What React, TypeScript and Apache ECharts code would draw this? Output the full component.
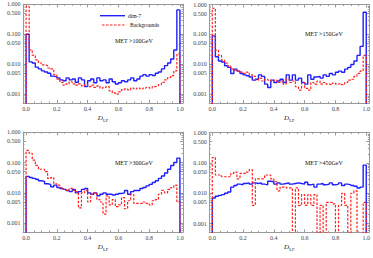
import React, { useEffect, useRef } from "react";
import * as echarts from "echarts";

const binStarts = [
  0.0, 0.02, 0.04, 0.06, 0.08, 0.1, 0.12, 0.14, 0.16, 0.18,
  0.2, 0.22, 0.24, 0.26, 0.28, 0.3, 0.32, 0.34, 0.36, 0.38,
  0.4, 0.42, 0.44, 0.46, 0.48, 0.5, 0.52, 0.54, 0.56, 0.58,
  0.6, 0.62, 0.64, 0.66, 0.68, 0.7, 0.72, 0.74, 0.76, 0.78,
  0.8, 0.82, 0.84, 0.86, 0.88, 0.9, 0.92, 0.94, 0.96, 0.98,
];
const binEnd = 1.0;

const metLabels = ["MET >100GeV", "MET >150GeV", "MET >300GeV", "MET >450GeV"];
const seriesNames = ["dim-7", "Backgrounds"];

const xTickValues = [0, 0.2, 0.4, 0.6, 0.8, 1.0];
const xMinorTickValues = [0.05, 0.1, 0.15, 0.25, 0.3, 0.35, 0.45, 0.5, 0.55, 0.65, 0.7, 0.75, 0.85, 0.9, 0.95];
const yTickValues = [1, 0.5, 0.1, 0.05, 0.01, 0.005, 0.001];
const yMinorTickValues = [
  0.9, 0.8, 0.7, 0.6, 0.4, 0.3, 0.2,
  0.09, 0.08, 0.07, 0.06, 0.04, 0.03, 0.02,
  0.009, 0.008, 0.007, 0.006, 0.004, 0.003, 0.002,
  0.0009, 0.0008, 0.0007, 0.0006,
];

const dim7_100 = [
  0.1, 0.012, 0.011, 0.008, 0.007, 0.006, 0.0055, 0.005, 0.004, 0.0038,
  0.0035, 0.003, 0.0028, 0.0035, 0.003, 0.0032, 0.0025, 0.0035, 0.003, 0.0018,
  0.0028, 0.0032, 0.0024, 0.0035, 0.0028, 0.003, 0.0024, 0.0032, 0.0026, 0.0022,
  0.0024, 0.0028, 0.0026, 0.003, 0.0035, 0.0028, 0.0032, 0.004, 0.0045, 0.004,
  0.0045, 0.0042, 0.005, 0.0055, 0.007, 0.009, 0.011, 0.015, 0.03, 0.65,
];
const bkg_100 = [
  0.85, 0.03, 0.02, 0.014, 0.011, 0.0095, 0.009, 0.0075, 0.007, 0.0045,
  0.0032, 0.0025, 0.002, 0.0022, 0.0026, 0.0022, 0.002, 0.0022, 0.0019, 0.0021,
  0.0018, 0.002, 0.0017, 0.0019, 0.0016, 0.0017, 0.0018, 0.0013, 0.0011, 0.001,
  0.0012, 0.0014, 0.0015, 0.0014, 0.0016, 0.0015, 0.0016, 0.0015, 0.0016, 0.0017,
  0.0016, 0.0018, 0.0019, 0.0021, 0.0025, 0.003, 0.0036, 0.0042, 0.006, 0.022,
];
const dim7_150 = [
  0.09, 0.018, 0.013, 0.012, 0.009, 0.008, 0.005, 0.007, 0.006, 0.005,
  0.0045, 0.0042, 0.0038, 0.003, 0.0032, 0.0045, 0.004, 0.0022, 0.0017, 0.003,
  0.0025, 0.0028, 0.0032, 0.0025, 0.0045, 0.003, 0.0045, 0.003, 0.0035, 0.0025,
  0.0022, 0.0045, 0.0032, 0.0038, 0.004, 0.0035, 0.0045, 0.004, 0.005, 0.0045,
  0.0055, 0.006, 0.0055, 0.007, 0.008, 0.01, 0.013, 0.02, 0.04, 0.55,
];
const bkg_150 = [
  0.75, 0.03, 0.02, 0.014, 0.011, 0.009, 0.007, 0.0065, 0.006, 0.0055,
  0.005, 0.0055, 0.0045, 0.004, 0.003, 0.0035, 0.0028, 0.0032, 0.003, 0.0028,
  0.003, 0.0025, 0.0028, 0.0022, 0.0032, 0.0025, 0.0028, 0.0018, 0.0014, 0.0025,
  0.0016, 0.0014, 0.0025, 0.0022, 0.0028, 0.0022, 0.0025, 0.0022, 0.0021, 0.0024,
  0.0022, 0.0023, 0.0021, 0.0025, 0.003, 0.0032, 0.004, 0.005, 0.006, 0.02,
];
const dim7_300 = [
  0.035, 0.032, 0.03, 0.028, 0.025, 0.024, 0.02, 0.019, 0.016, 0.018,
  0.015, 0.014, 0.013, 0.012, 0.011, 0.013, 0.01, 0.011, 0.013, 0.014,
  0.01, 0.009, 0.01, 0.008, 0.009, 0.01, 0.009, 0.009, 0.0085, 0.009,
  0.0095, 0.01, 0.012, 0.009, 0.011, 0.012, 0.012, 0.014, 0.015, 0.017,
  0.019, 0.022, 0.025, 0.03, 0.036, 0.045, 0.06, 0.08, 0.1, 0.14,
];
const bkg_300 = [
  0.25, 0.2, 0.12, 0.08, 0.06, 0.06, 0.05, 0.03, 0.032, 0.02,
  0.018, 0.015, 0.013, 0.012, 0.014, 0.012, 0.011, 0.0032, 0.01, 0.012,
  0.005, 0.009, 0.01, 0.006, 0.005, 0.002, 0.008, 0.004, 0.006, 0.0035,
  0.004, 0.007, 0.003, 0.0055, 0.009, 0.0045, 0.0045, 0.0045, 0.005, 0.0045,
  0.004, 0.0055, 0.006, 0.009, 0.012, 0.01, 0.013, 0.015, 0.018, 0.005,
];
const dim7_450 = [
  0.007, 0.008, 0.0085, 0.009, 0.01, 0.011, 0.016, 0.018, 0.02, 0.019,
  0.021, 0.022, 0.02, 0.022, 0.021, 0.022, 0.02, 0.019, 0.025, 0.024,
  0.02, 0.022, 0.02, 0.021, 0.022, 0.02, 0.021, 0.022, 0.021, 0.02,
  0.023, 0.019, 0.02, 0.016, 0.02, 0.021, 0.019, 0.02, 0.022, 0.019,
  0.02, 0.022, 0.018, 0.02, 0.019, 0.018, 0.017, 0.015, 0.016, 0.085,
];
const bkg_450 = [
  0.15, 0.04, 0.04, 0.035, 0.035, 0.035, 0.045, 0.05, 0.03, 0.045,
  0.045, 0.05, 0.06, 0.004, 0.03, 0.03, 0.03, 0.04, 0.04, 0.03,
  0.024, 0.012, 0.016, 0.016, 0.015, 0.015, 0, 0.015, 0.004, 0.009,
  0.004, 0.009, 0.004, 0.009, 0, 0.004, 0, 0.005, 0.005, 0.0045,
  0, 0.004, 0.01, 0.004, 0, 0.01, 0.012, 0, 0, 0.005,
];

const panels = [
  { dim7: dim7_100, bkg: bkg_100, label: metLabels[0] },
  { dim7: dim7_150, bkg: bkg_150, label: metLabels[1] },
  { dim7: dim7_300, bkg: bkg_300, label: metLabels[2] },
  { dim7: dim7_450, bkg: bkg_450, label: metLabels[3] },
];

// layout (pixels)
const grids = [
  { left: 23, top: 4.3, width: 160, height: 98.6, labelX: 115, labelY: 41 },
  { left: 209.2, top: 4.5, width: 161.6, height: 98.6, labelX: 305, labelY: 33.5 },
  { left: 23, top: 132.2, width: 160, height: 99.8, labelX: 115, labelY: 163 },
  { left: 209.2, top: 132.6, width: 161.6, height: 99.8, labelX: 305, labelY: 163 },
];

const BLUE = "#1f1fff";
const RED = "#ff2020";
const FRAME = "#9a9a9a";
const LABEL = "#444";
const FONT = "Liberation Serif";
const Y_MIN = -3.29;
const Y_MAX = 0;
const FLOOR = -6;

const lg = (v: number) => (v > 0 ? Math.log10(v) : FLOOR);

function stepData(vals: number[]) {
  const pts: number[][] = [[binStarts[0], FLOOR]];
  vals.forEach((v, i) => pts.push([binStarts[i], lg(v)]));
  pts.push([binEnd, FLOOR]);
  return pts;
}

function buildOption() {
  const xAxis: any[] = [];
  const yAxis: any[] = [];
  const series: any[] = [];
  const graphic: any[] = [];

  grids.forEach((g, gi) => {
    const frameLine = { show: true, onZero: false, lineStyle: { color: FRAME, width: 1 } };
    const noLine = { show: false, onZero: false };
    const xBase = { gridIndex: gi, type: "value", min: -0.02, max: 1.02, splitLine: { show: false } };
    xAxis.push({
      ...xBase,
      position: "bottom",
      axisLine: frameLine,
      axisTick: { show: true, inside: true, length: 3, customValues: xTickValues, lineStyle: { color: FRAME } },
      axisLabel: {
        customValues: xTickValues,
        formatter: (v: number) => v.toFixed(1),
        fontSize: 6,
        fontFamily: FONT,
        color: LABEL,
        margin: 3,
      },
      name: "{i|D}{s|LF}",
      nameLocation: "middle",
      nameGap: 10,
      nameTextStyle: {
        rich: {
          i: { fontStyle: "italic", fontSize: 7, fontFamily: FONT, color: "#222" },
          s: { fontSize: 4.5, fontFamily: FONT, color: "#222", padding: [5, 0, 0, 0] },
        },
      },
    });
    xAxis.push({
      ...xBase,
      position: "top",
      axisLine: frameLine,
      axisTick: { show: true, inside: true, length: 3, customValues: xTickValues, lineStyle: { color: FRAME } },
      axisLabel: { show: false },
    });
    xAxis.push({
      ...xBase,
      position: "bottom",
      axisLine: noLine,
      axisTick: { show: true, inside: true, length: 1.5, customValues: xMinorTickValues, lineStyle: { color: FRAME } },
      axisLabel: { show: false },
    });
    xAxis.push({
      ...xBase,
      position: "top",
      axisLine: noLine,
      axisTick: { show: true, inside: true, length: 1.5, customValues: xMinorTickValues, lineStyle: { color: FRAME } },
      axisLabel: { show: false },
    });

    const yMajor = yTickValues.map((v) => Math.log10(v));
    const yMinor = yMinorTickValues.map((v) => Math.log10(v));
    const yBase = { gridIndex: gi, type: "value", min: Y_MIN, max: Y_MAX, splitLine: { show: false } };
    yAxis.push({
      ...yBase,
      position: "left",
      axisLine: frameLine,
      axisTick: { show: true, inside: true, length: 3, customValues: yMajor, lineStyle: { color: FRAME } },
      axisLabel: {
        customValues: yMajor,
        formatter: (v: number) => Math.pow(10, v).toFixed(3),
        fontSize: 6,
        fontFamily: FONT,
        color: LABEL,
        margin: 2.5,
      },
    });
    yAxis.push({
      ...yBase,
      position: "right",
      axisLine: frameLine,
      axisTick: { show: true, inside: true, length: 3, customValues: yMajor, lineStyle: { color: FRAME } },
      axisLabel: { show: false },
    });
    yAxis.push({
      ...yBase,
      position: "left",
      axisLine: noLine,
      axisTick: { show: true, inside: true, length: 1.5, customValues: yMinor, lineStyle: { color: FRAME } },
      axisLabel: { show: false },
    });
    yAxis.push({
      ...yBase,
      position: "right",
      axisLine: noLine,
      axisTick: { show: true, inside: true, length: 1.5, customValues: yMinor, lineStyle: { color: FRAME } },
      axisLabel: { show: false },
    });

    const p = panels[gi];
    series.push({
      name: seriesNames[0],
      type: "line",
      step: "end",
      xAxisIndex: gi * 4,
      yAxisIndex: gi * 4,
      data: stepData(p.dim7),
      showSymbol: false,
      symbol: "none",
      clip: true,
      lineStyle: { color: BLUE, width: 1.4 },
      z: 3,
    });
    series.push({
      name: seriesNames[1],
      type: "line",
      step: "end",
      xAxisIndex: gi * 4,
      yAxisIndex: gi * 4,
      data: stepData(p.bkg),
      showSymbol: false,
      symbol: "none",
      clip: true,
      lineStyle: { color: RED, width: 1.2, type: [2.5, 1.5] },
      z: 4,
    });

    graphic.push({
      type: "text",
      x: g.labelX,
      y: g.labelY,
      style: {
        text: p.label,
        fontSize: 6,
        fontFamily: FONT,
        fill: "#111",
        align: "left",
        verticalAlign: "middle",
      },
    });
  });

  // legend in panel 1
  graphic.push(
    { type: "line", shape: { x1: 100, y1: 15.7, x2: 125, y2: 15.7 }, style: { stroke: BLUE, lineWidth: 1.4 } },
    {
      type: "text",
      x: 128,
      y: 15.7,
      style: { text: seriesNames[0], fontSize: 5.5, fontFamily: FONT, fill: "#111", verticalAlign: "middle" },
    },
    {
      type: "line",
      shape: { x1: 102, y1: 25, x2: 126, y2: 25 },
      style: { stroke: RED, lineWidth: 1.2, lineDash: [2.5, 1.5] },
    },
    {
      type: "text",
      x: 130,
      y: 25,
      style: { text: seriesNames[1], fontSize: 5.5, fontFamily: FONT, fill: "#111", verticalAlign: "middle" },
    }
  );

  return {
    animation: false,
    backgroundColor: "#ffffff",
    grid: grids.map((g) => ({ left: g.left, top: g.top, width: g.width, height: g.height, containLabel: false })),
    xAxis,
    yAxis,
    series,
    graphic,
  };
}

export default function App() {
  const ref = useRef<HTMLDivElement>(null);
  useEffect(() => {
    if (!ref.current) return;
    const chart = echarts.init(ref.current, undefined, { renderer: "svg" });
    chart.setOption(buildOption() as any);
    return () => chart.dispose();
  }, []);
  return (
    <div
      ref={ref}
      style={{ position: "absolute", left: 0, top: 0, width: 373, height: 258, background: "#fff" }}
    />
  );
}
